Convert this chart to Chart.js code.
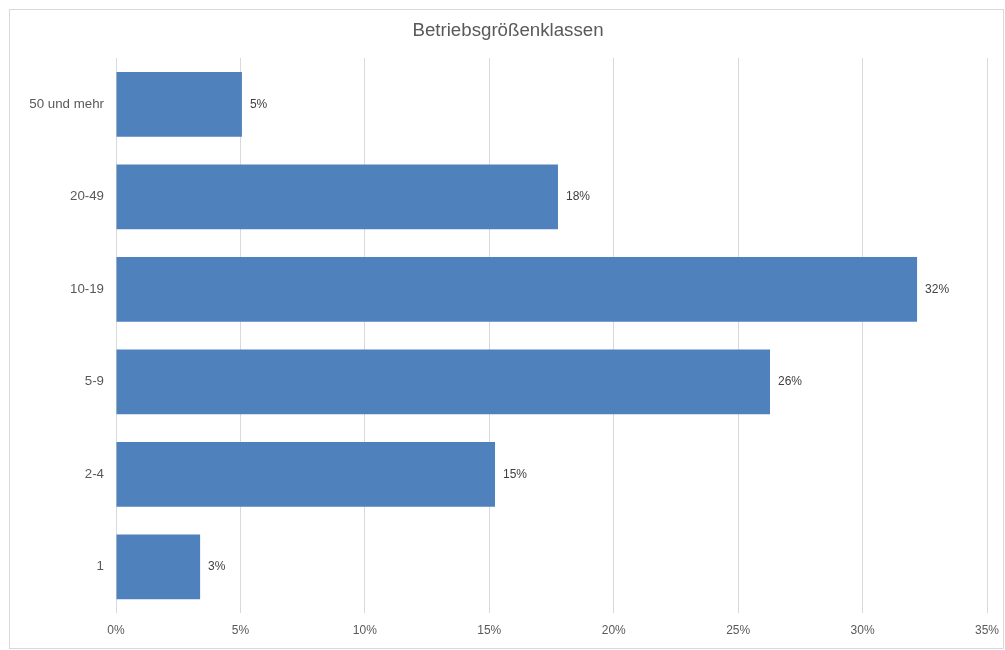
<!DOCTYPE html>
<html>
<head>
<meta charset="utf-8">
<script src="https://cdn.jsdelivr.net/npm/chart.js@4/dist/chart.umd.min.js"></script>
<style>
html,body{margin:0;padding:0;background:#fff;}
#wrap{position:absolute;left:0;top:0;width:1005px;height:650px;}
</style>
</head>
<body>
<div id="wrap"><canvas id="c"></canvas></div>
<script>
const categories = ["50 und mehr", "20-49", "10-19", "5-9", "2-4", "1"];
const values = [5.06, 17.76, 32.19, 26.28, 15.23, 3.38];
const xTicks = [0, 5, 10, 15, 20, 25, 30, 35];
const titleText = "Betriebsgrößenklassen";
const FONT = '"Liberation Sans", Arial, sans-serif';

const frame = {
  id: 'frame',
  beforeDraw(chart) {
    const ctx = chart.ctx;
    ctx.save();
    ctx.fillStyle = '#fff';
    ctx.fillRect(0, 0, chart.width, chart.height);
    ctx.strokeStyle = '#d9d9d9';
    ctx.lineWidth = 1;
    ctx.strokeRect(9.5, 9.5, 994, 639);
    ctx.font = '18.7px ' + FONT;
    ctx.fillStyle = '#595959';
    ctx.textAlign = 'center';
    ctx.textBaseline = 'middle';
    ctx.fillText(titleText, 508, 31);
    ctx.restore();
  }
};

const valueLabels = {
  id: 'valueLabels',
  afterDatasetsDraw(chart) {
    const ctx = chart.ctx;
    const meta = chart.getDatasetMeta(0);
    ctx.save();
    ctx.font = '12px ' + FONT;
    ctx.fillStyle = '#404040';
    ctx.textAlign = 'left';
    ctx.textBaseline = 'middle';
    meta.data.forEach((bar, i) => {
      ctx.fillText(Math.round(values[i]) + '%', bar.x + 8, bar.y);
    });
    ctx.restore();
  }
};

new Chart(document.getElementById('c'), {
  type: 'bar',
  data: {
    labels: categories,
    datasets: [{
      data: values,
      backgroundColor: '#4F81BD',
      borderWidth: 0,
      categoryPercentage: 1,
      barPercentage: 0.7
    }]
  },
  options: {
    indexAxis: 'y',
    responsive: true,
    maintainAspectRatio: false,
    animation: false,
    layout: { padding: { left: 0, right: 18, top: 58, bottom: 0 } },
    plugins: {
      legend: { display: false },
      tooltip: { enabled: false },
      title: { display: false }
    },
    scales: {
      x: {
        min: 0,
        max: 35,
        afterBuildTicks(scale) { scale.ticks = xTicks.map(v => ({ value: v })); },
        afterFit(scale) { scale.height = 37; scale.paddingLeft = 0; scale.paddingRight = 0; },
        border: { display: false },
        grid: { color: '#d9d9d9', drawTicks: false, lineWidth: 1 },
        ticks: {
          padding: 10,
          color: '#595959',
          font: { family: FONT, size: 12 },
          callback: v => v + '%'
        }
      },
      y: {
        afterFit(scale) { scale.width = 116; scale.paddingTop = 0; scale.paddingBottom = 0; },
        border: { display: false },
        grid: { display: false, drawTicks: false },
        ticks: {
          padding: 12,
          color: '#595959',
          font: { family: FONT, size: 13.3 }
        }
      }
    }
  },
  plugins: [frame, valueLabels]
});
</script>
</body>
</html>
